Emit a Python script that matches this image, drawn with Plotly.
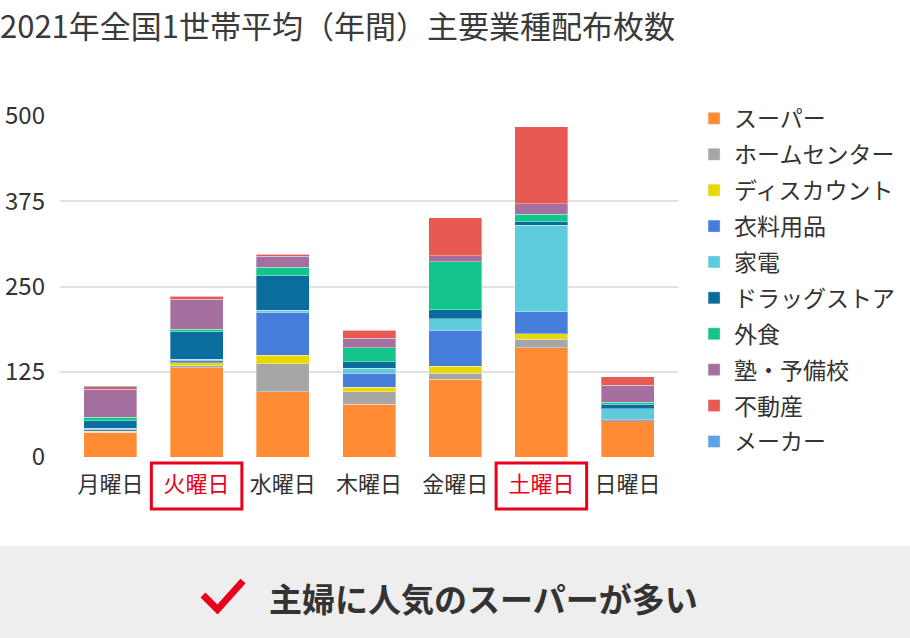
import plotly.graph_objects as go

days = ['月曜日', '火曜日', '水曜日', '木曜日', '金曜日', '土曜日', '日曜日']
highlight_days = ['火曜日', '土曜日']

series_names = ['スーパー', 'ホームセンター', 'ディスカウント', '衣料用品', '家電',
                'ドラッグストア', '外食', '塾・予備校', '不動産', 'メーカー']
super_vals = [36, 131, 96, 77, 114, 160, 53]
home_center = [0, 3, 41, 19, 9, 13, 0]
discount = [2, 4, 12, 6, 10, 8, 0]
clothing = [3, 4, 63, 21, 53, 32, 2]
appliance = [1, 1.5, 3, 7, 17, 127, 16]
drugstore = [11, 40, 51, 10, 13, 5, 6]
dining = [5, 4, 12, 20, 70, 11, 3]
cram = [41, 44, 16, 14, 9, 15, 25]
realestate = [4, 4, 3, 12, 56, 113, 13]
maker = [1, 0, 0, 0, 0, 0, 0]
series_values = [super_vals, home_center, discount, clothing, appliance,
                 drugstore, dining, cram, realestate, maker]
colors = ['#ff8c35', '#a6a6a6', '#e6d800', '#467ddb', '#5ecbdc',
          '#0b6d9e', '#13c48c', '#a5709f', '#e65a52', '#5ba3e6']

y_ticks = [0, 125, 250, 375, 500]
title_text = '2021年全国1世帯平均（年間）主要業種配布枚数'
banner_text = '主婦に人気のスーパーが多い'

FONT = 'Noto Sans CJK JP, Noto Sans, sans-serif'
TXT = '#333333'
RED = '#e8001c'

W, H = 910, 638
L, R, T, B = 60, 232, 116, 181
PW, PH = W - L - R, H - T - B


def px(x, y):
    return (x - L) / PW, (H - B - y) / PH


fig = go.Figure()
for name, vals, c in zip(series_names, series_values, colors):
    fig.add_trace(go.Bar(
        name=name, x=days, y=vals, legendgroup=name,
        marker=dict(color=c, line=dict(color='rgba(255,255,255,0.35)', width=1)),
    ))

ticktext = [f'<span style="color:{RED}">{d}</span>' if d in highlight_days else d for d in days]

shapes = []
# bottom banner
bx0, by0 = px(0, 638)
bx1, by1 = px(910, 546)
shapes.append(dict(type='rect', xref='paper', yref='paper', x0=bx0, x1=bx1, y0=by0, y1=by1,
                   fillcolor='#eeeeee', line=dict(width=0), layer='below'))
# red boxes around highlighted day labels
_, ytop = px(0, 463)
_, ybot = px(0, 509)
for d in highlight_days:
    i = days.index(d)
    shapes.append(dict(type='rect', xref='x', yref='paper', x0=i - 0.525, x1=i + 0.525,
                       y0=ybot, y1=ytop, line=dict(color=RED, width=3), fillcolor='rgba(0,0,0,0)'))
# checkmark
p1 = px(203, 595)
p2 = px(217.5, 609.5)
p3 = px(243, 581)
shapes.append(dict(type='path', xref='paper', yref='paper',
                   path=f'M{p1[0]},{p1[1]} L{p2[0]},{p2[1]} L{p3[0]},{p3[1]}',
                   line=dict(color=RED, width=7), fillcolor='rgba(0,0,0,0)'))

ax, ay = px(483.5, 598)
fig.update_layout(
    width=W, height=H,
    margin=dict(l=L, r=R, t=T, b=B, autoexpand=False),
    paper_bgcolor='white', plot_bgcolor='white',
    barmode='stack', bargap=0.385,
    font=dict(family=FONT, color=TXT),
    title=dict(text=title_text, xref='container', yref='container', x=0.0, xanchor='left',
               y=1 - 27 / H, yanchor='middle', font=dict(size=31, color='#3a3a3a', family=FONT)),
    xaxis=dict(type='category', range=[-0.585, 6.585], tickmode='array', tickvals=days,
               ticktext=ticktext, showgrid=False, zeroline=False, showline=False, ticks='',
               tickfont=dict(size=22, color=TXT), ticklabelstandoff=12, fixedrange=True),
    yaxis=dict(range=[0, 500], tickmode='array', tickvals=y_ticks, showgrid=True,
               gridcolor='#e1e1e1', gridwidth=2, zeroline=False, showline=False, ticks='',
               tickfont=dict(size=24, color=TXT), ticklabelstandoff=14, fixedrange=True),
    legend=dict(x=1.026, xanchor='left', y=1.056, yanchor='top', traceorder='grouped',
                tracegroupgap=3, maxheight=600, font=dict(size=23, color=TXT, family=FONT),
                bgcolor='rgba(0,0,0,0)'),
    shapes=shapes,
    annotations=[dict(text=f'<b>{banner_text}</b>', xref='paper', yref='paper', x=ax, y=ay,
                      xanchor='center', yanchor='middle', showarrow=False,
                      font=dict(size=33, color=TXT, family=FONT))],
)

fig.write_html('out.html', config={'displayModeBar': False},
               post_script="document.body.style.margin='0';document.body.style.padding='0';"
                           "document.body.style.overflow='hidden';")
